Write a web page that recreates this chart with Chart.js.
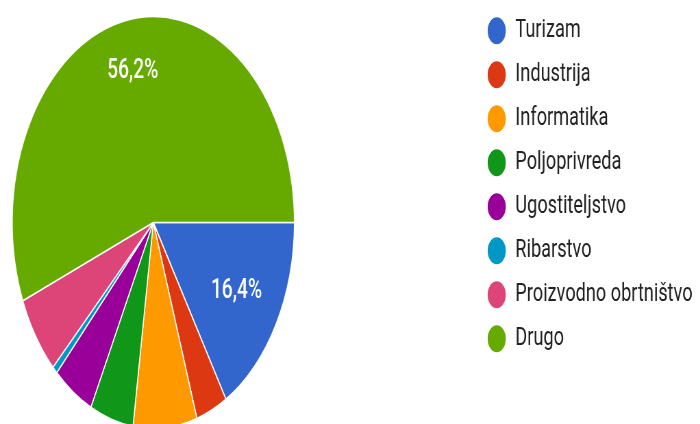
<!DOCTYPE html>
<html>
<head>
<meta charset="utf-8">
<script src="https://cdn.jsdelivr.net/npm/chart.js@4.4.1/dist/chart.umd.min.js"></script>
<style>
html, body { margin: 0; padding: 0; background: #fff; }
body { width: 700px; height: 424px; overflow: hidden; position: relative; }
/* the reference is squeezed sideways, so the whole chart is drawn wide and scaled down */
#wrap {
    position: absolute; left: 0; top: 0;
    width: 1280px; height: 445px;
    transform-origin: 0 0;
    transform: scaleX(0.685) translateX(-246px);
}
</style>
</head>
<body>
<div id="wrap"><canvas id="myChart"></canvas></div>
<script>
let categories = ['Turizam', 'Industrija', 'Informatika', 'Poljoprivreda', 'Ugostiteljstvo', 'Ribarstvo', 'Proizvodno obrtništvo', 'Drugo']
let percents = [16.4, 3.6, 7.3, 5.0, 4.7, 0.6, 6.2, 56.2]
let sliceColors = ['#3366cc', '#dc3912', '#ff9900', '#109618', '#990099', '#0099c6', '#dd4477', '#66aa00']

// only the big slices get a value written on them
let minLabelValue = 10

let pctLabels = {
    id: 'pctLabels',
    afterDatasetsDraw(chart) {
        let ctx = chart.ctx
        let meta = chart.getDatasetMeta(0)
        ctx.save()
        ctx.fillStyle = '#ffffff'
        ctx.font = '500 28px Roboto'
        ctx.textAlign = 'center'
        ctx.textBaseline = 'middle'
        meta.data.forEach((arc, i) => {
            if (percents[i] < minLabelValue) return
            let p = arc.getProps(['x', 'y', 'startAngle', 'endAngle', 'outerRadius'], true)
            let mid = (p.startAngle + p.endAngle) / 2
            // bigger slices push their label a bit further out
            let r = p.outerRadius * (0.647 + 0.186 * percents[i] / 100)
            let txt = percents[i].toFixed(1).replace('.', ',') + '%'
            ctx.fillText(txt, p.x + Math.cos(mid) * r, p.y + Math.sin(mid) * r)
        })
        ctx.restore()
    }
}

let data = {
    labels: categories,
    datasets: [{
        data: percents,
        backgroundColor: sliceColors,
        borderColor: '#ffffff',
        borderWidth: 1.5,
    }]
}

let config = {
    type: 'pie',
    data: data,
    options: {
        responsive: true,
        maintainAspectRatio: false,
        animation: false,
        rotation: 90,
        radius: 206,
        layout: {
            padding: 0
        },
        plugins: {
            legend: {
                position: 'right',
                align: 'start',
                labels: {
                    usePointStyle: true,
                    pointStyle: 'circle',
                    pointStyleWidth: 28,
                    boxHeight: 20,
                    padding: 17.5,
                    color: '#222222',
                    font: {
                        family: 'Roboto',
                        size: 26.5
                    }
                }
            },
            tooltip: {
                enabled: false
            }
        }
    },
    plugins: [pctLabels]
}

let ctx = document.getElementById('myChart')
let mychart = new Chart(ctx, config)

// make the canvas just wide enough so the legend starts where the pie area should end
let wrap = document.getElementById('wrap')
wrap.style.width = (939.6 + mychart.legend.width) + 'px'
mychart.resize()
</script>
</body>
</html>
